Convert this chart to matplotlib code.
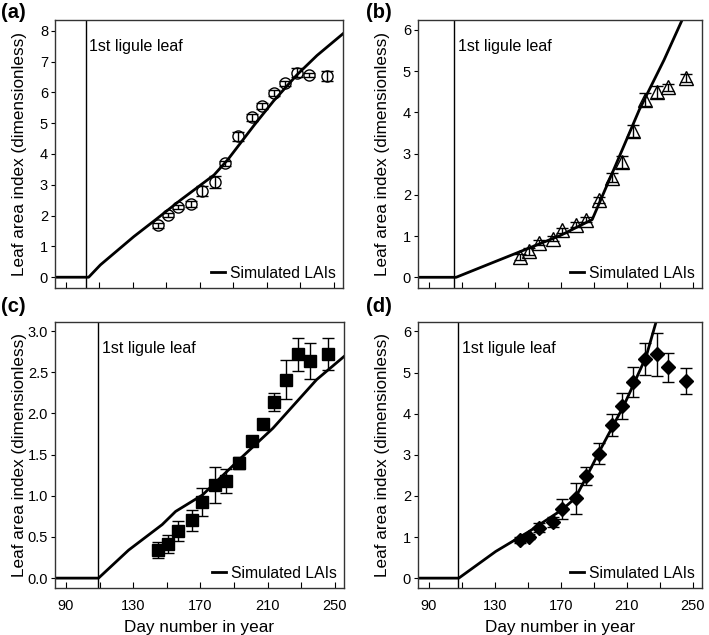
import matplotlib
matplotlib.use("Agg")
import matplotlib.pyplot as plt

plt.rcParams['font.family'] = ['Liberation Sans', 'DejaVu Sans']

# sampling days (same for all four panels)
days = [145, 151, 157, 165, 171, 179, 185, 193, 201, 207, 214, 221, 228, 235, 246]

# (a) observed LAI + error
lai_a = [1.68, 2.02, 2.28, 2.38, 2.80, 3.10, 3.70, 4.57, 5.19, 5.56, 5.97, 6.30, 6.64, 6.57, 6.53]
err_a = [0.08, 0.08, 0.07, 0.10, 0.15, 0.20, 0.08, 0.15, 0.12, 0.10, 0.10, 0.08, 0.15, 0.07, 0.17]
# (b)
lai_b = [0.49, 0.63, 0.84, 0.93, 1.14, 1.27, 1.39, 1.87, 2.42, 2.79, 3.55, 4.31, 4.50, 4.61, 4.84]
err_b = [0.08, 0.08, 0.06, 0.06, 0.06, 0.06, 0.06, 0.08, 0.12, 0.15, 0.15, 0.15, 0.15, 0.08, 0.10]
# (c)
lai_c = [0.34, 0.41, 0.57, 0.70, 0.92, 1.13, 1.18, 1.40, 1.67, 1.87, 2.14, 2.41, 2.72, 2.64, 2.72]
err_c = [0.10, 0.11, 0.12, 0.13, 0.17, 0.22, 0.15, 0.07, 0.03, 0.03, 0.11, 0.24, 0.20, 0.22, 0.19]
# (d)
lai_d = [0.93, 1.01, 1.23, 1.37, 1.68, 1.94, 2.49, 3.03, 3.73, 4.18, 4.77, 5.32, 5.44, 5.13, 4.79]
err_d = [0.08, 0.07, 0.10, 0.12, 0.24, 0.38, 0.22, 0.26, 0.27, 0.32, 0.37, 0.39, 0.52, 0.35, 0.32]

# simulated LAI curves (day, value)
sim_a_day = [80, 103.6, 110.6, 130.6, 144.6, 158.6, 178.5, 186.6, 202.5, 214, 228, 240, 256.5]
sim_a_lai = [0, 0, 0.40, 1.32, 1.91, 2.51, 3.32, 3.81, 4.94, 5.72, 6.57, 7.2, 7.95]
sim_b_day = [80, 106.6, 129.6, 149.6, 169.5, 189.0, 203, 217.5, 232.5, 256]
sim_b_lai = [0, 0, 0.37, 0.69, 1.01, 1.40, 2.70, 4.06, 5.27, 7.35]
sim_c_day = [80, 109.4, 127.3, 147.3, 155.3, 171.3, 193.2, 213.2, 239.2, 256.6]
sim_c_lai = [0, 0, 0.34, 0.65, 0.81, 1.01, 1.44, 1.82, 2.41, 2.71]
sim_d_day = [80, 108.2, 130.6, 150.6, 170.6, 178.6, 184.6, 193.6, 208.2, 221.6, 227.6, 235]
sim_d_lai = [0, 0, 0.65, 1.13, 1.66, 1.94, 2.39, 3.10, 4.20, 5.38, 6.22, 6.9]

first_ligule = [101.8, 105.6, 109.2, 107.6]
panel_names = ['(a)', '(b)', '(c)', '(d)']

W, H = 709, 635
fig = plt.figure(figsize=(W / 100, H / 100), dpi=100)


def box(l, t, r, b):
    return [l / W, 1 - b / H, (r - l) / W, (b - t) / H]


axes = [fig.add_axes(box(55, 20, 343, 288)),
        fig.add_axes(box(418, 20, 702, 288)),
        fig.add_axes(box(55, 322, 344, 588)),
        fig.add_axes(box(418, 322, 702, 588))]

obs = [(lai_a, err_a, 'o', 'none', 8),
       (lai_b, err_b, '^', 'none', 10),
       (lai_c, err_c, 's', 'black', 8),
       (lai_d, err_d, 'D', 'black', 7)]
sims = [(sim_a_day, sim_a_lai), (sim_b_day, sim_b_lai),
        (sim_c_day, sim_c_lai), (sim_d_day, sim_d_lai)]
ylims = [(-0.35, 8.35), (-0.26, 6.24), (-0.12, 3.11), (-0.24, 6.23)]
yticks = [range(0, 9), range(0, 7), [0, 0.5, 1, 1.5, 2, 2.5, 3], range(0, 7)]

xt = list(range(90, 251, 20))
xl = ['90', '', '130', '', '170', '', '210', '', '250']

for i, ax in enumerate(axes):
    lai, err, mk, fc, ms = obs[i]
    sd, sl = sims[i]
    ax.plot(sd, sl, color='black', lw=2, label='Simulated LAIs', zorder=2)
    ax.errorbar(days, lai, yerr=err, fmt=mk, mfc=fc, mec='black', mew=1,
                ms=ms, ecolor='black', elinewidth=1, capsize=4, capthick=1, zorder=3)
    ax.axvline(first_ligule[i], color='black', lw=1)
    ax.text(first_ligule[i] + 2.3, ylims[i][0] + 0.9 * (ylims[i][1] - ylims[i][0]),
            '1st ligule leaf', fontsize=11.5, va='center', ha='left')
    ax.set_xlim(83.5, 255.5)
    ax.set_ylim(*ylims[i])
    ax.set_yticks(list(yticks[i]))
    if i == 2:
        ax.set_yticklabels(['%.1f' % v for v in yticks[i]])
    ax.set_xticks(xt)
    if i >= 2:
        ax.set_xticklabels(xl)
        ax.set_xlabel('Day number in year', fontsize=12.3, labelpad=5)
    else:
        ax.set_xticklabels([''] * len(xt))
    ax.tick_params(axis='x', direction='in', length=4, labelsize=10.5, pad=8)
    ax.tick_params(axis='y', direction='out', length=3, labelsize=10.5, pad=2)
    ax.set_ylabel('Leaf area index (dimensionless)', fontsize=12.3)
    ax.yaxis.set_label_coords(-0.097, 0.5)
    for s in ax.spines.values():
        s.set_linewidth(1)
        s.set_color('#333333')
    ax.legend(loc='lower right', frameon=False, handlelength=0.9,
              handletextpad=0.3, borderaxespad=0.05, fontsize=11.3)

label_pos = [(1, 13), (366, 13), (1, 307), (366, 307)]
for name, (px, py) in zip(panel_names, label_pos):
    fig.text(px / W, 1 - py / H, name, fontsize=14.5, fontweight='bold', va='center', ha='left')

fig.savefig('out.png', dpi=100)
